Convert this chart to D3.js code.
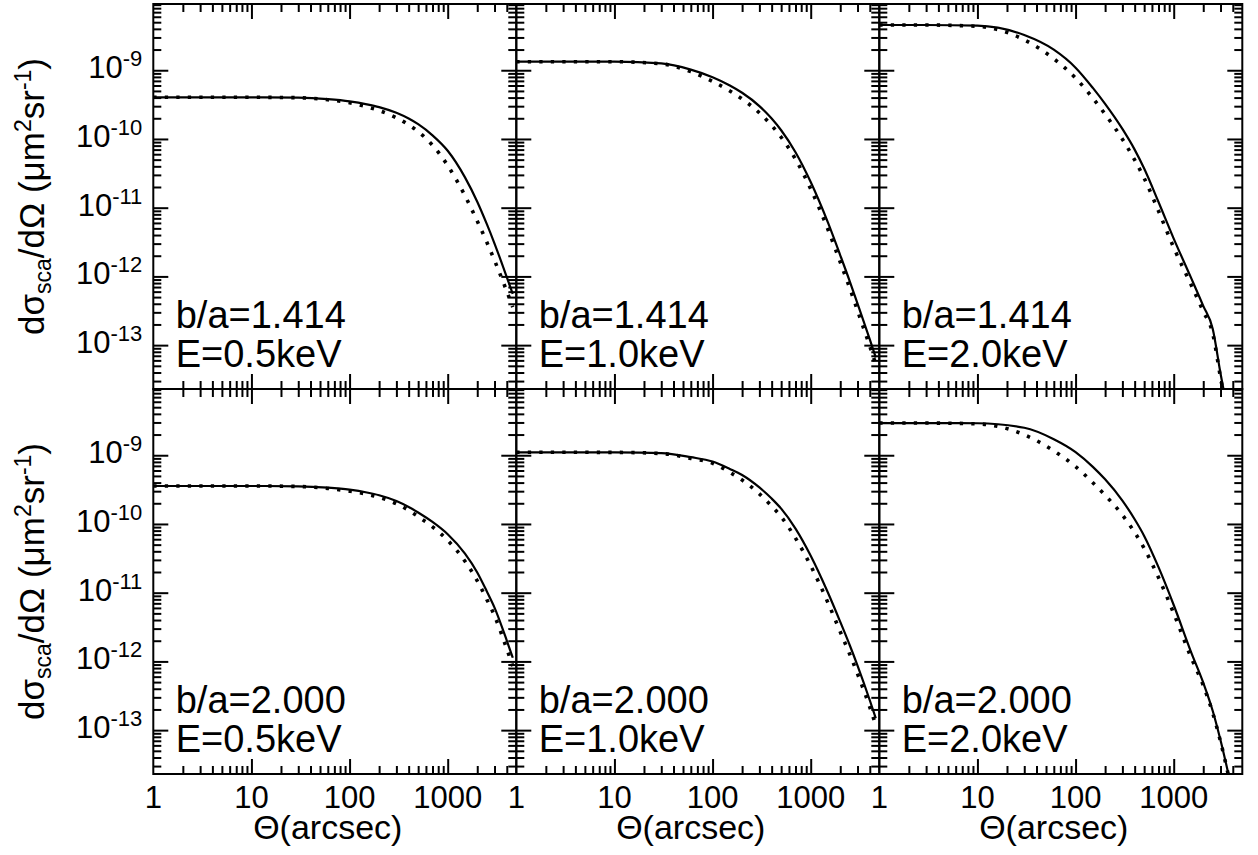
<!DOCTYPE html>
<html lang="en">
<head>
<meta charset="UTF-8">
<title>dsigma/dOmega panels</title>
<script src="https://cdn.jsdelivr.net/npm/d3@7"></script>
<style>
  body { margin: 0; background: #fff; }
  text { font-family: "Liberation Sans", Arial, Helvetica, sans-serif; fill: #000; }
</style>
</head>
<body>
<script>
// scattering angle (arcsec), shared by every curve
var theta = [1, 3, 10, 30, 60, 100, 150, 200, 300, 400, 500, 700, 1000, 1500, 2000, 2500, 3000, 4000, 4600];

// b/a = 1.414
var solid_r1_e05  = [4.04e-10, 4.04e-10, 4.04e-10, 3.99e-10, 3.79e-10, 3.52e-10, 3.19e-10, 2.91e-10, 2.40e-10, 1.98e-10, 1.64e-10, 1.13e-10, 6.73e-11, 2.76e-11, 1.22e-11, 5.80e-12, 3.01e-12, 9.77e-13, 5.57e-13];
var dotted_r1_e05 = [4.04e-10, 4.04e-10, 4.04e-10, 3.98e-10, 3.72e-10, 3.37e-10, 2.94e-10, 2.59e-10, 2.03e-10, 1.61e-10, 1.28e-10, 8.11e-11, 4.11e-11, 1.49e-11, 6.38e-12, 3.16e-12, 1.71e-12, 6.07e-13, 3.56e-13];
var solid_r1_e10  = [1.33e-9, 1.33e-9, 1.33e-9, 1.256e-9, 1.021e-9, 7.91e-10, 6.00e-10, 4.70e-10, 3.01e-10, 1.98e-10, 1.34e-10, 6.40e-11, 2.36e-11, 6.05e-12, 2.03e-12, 8.49e-13, 4.01e-13, 1.21e-13, 6.64e-14];
var dotted_r1_e10 = [1.33e-9, 1.33e-9, 1.33e-9, 1.24e-9, 9.53e-10, 6.89e-10, 4.99e-10, 3.82e-10, 2.39e-10, 1.57e-10, 1.06e-10, 5.08e-11, 1.87e-11, 4.81e-12, 1.61e-12, 6.75e-13, 3.18e-13, 9.64e-14, 5.30e-14];
var solid_r1_e20  = [4.55e-9, 4.55e-9, 4.45e-9, 3.25e-9, 1.99e-9, 1.09e-9, 5.53e-10, 3.24e-10, 1.40e-10, 7.00e-11, 3.71e-11, 1.21e-11, 3.55e-12, 9.59e-13, 3.72e-13, 1.72e-13, 3.87e-14, 4.55e-15, 1.44e-15];
var dotted_r1_e20 = [4.55e-9, 4.55e-9, 4.35e-9, 2.77e-9, 1.47e-9, 7.69e-10, 3.92e-10, 2.29e-10, 9.93e-11, 4.95e-11, 2.69e-11, 8.95e-12, 2.63e-12, 7.62e-13, 3.10e-13, 1.47e-13, 3.37e-14, 3.96e-15, 1.25e-15];

// b/a = 2.000
var solid_r2_e05  = [3.57e-10, 3.57e-10, 3.57e-10, 3.53e-10, 3.37e-10, 3.15e-10, 2.87e-10, 2.62e-10, 2.16e-10, 1.77e-10, 1.47e-10, 1.07e-10, 7.09e-11, 3.70e-11, 1.97e-11, 1.05e-11, 6.07e-12, 2.01e-12, 1.13e-12];
var dotted_r2_e05 = [3.57e-10, 3.57e-10, 3.57e-10, 3.51e-10, 3.29e-10, 3.00e-10, 2.71e-10, 2.44e-10, 1.97e-10, 1.58e-10, 1.28e-10, 9.09e-11, 5.76e-11, 2.87e-11, 1.49e-11, 8.00e-12, 4.61e-12, 1.52e-12, 8.56e-13];
var solid_r2_e10  = [1.104e-9, 1.104e-9, 1.10e-9, 1.074e-9, 9.38e-10, 8.09e-10, 6.32e-10, 5.16e-10, 3.40e-10, 2.34e-10, 1.67e-10, 8.57e-11, 3.45e-11, 9.98e-12, 3.77e-12, 1.72e-12, 8.71e-13, 2.72e-13, 1.49e-13];
var dotted_r2_e10 = [1.104e-9, 1.104e-9, 1.10e-9, 1.06e-9, 8.99e-10, 7.64e-10, 5.64e-10, 4.35e-10, 2.74e-10, 1.82e-10, 1.27e-10, 6.21e-11, 2.47e-11, 7.14e-12, 2.70e-12, 1.27e-12, 6.61e-13, 2.16e-13, 1.18e-13];
var solid_r2_e20  = [2.94e-9, 2.94e-9, 2.92e-9, 2.51e-9, 1.71e-9, 1.11e-9, 6.78e-10, 4.46e-10, 2.19e-10, 1.17e-10, 6.70e-11, 2.35e-11, 6.62e-12, 1.38e-12, 4.91e-13, 1.90e-13, 7.14e-14, 1.20e-14, 5.0e-15];
var dotted_r2_e20 = [2.94e-9, 2.94e-9, 2.86e-9, 1.99e-9, 1.16e-9, 6.84e-10, 3.99e-10, 2.62e-10, 1.35e-10, 7.55e-11, 4.43e-11, 1.66e-11, 5.02e-12, 1.15e-12, 4.48e-13, 1.77e-13, 6.82e-14, 1.15e-14, 4.8e-15];

var ratioLabels = ["b/a=1.414", "b/a=2.000"];
var energyLabels = ["E=0.5keV", "E=1.0keV", "E=2.0keV"];
var xTickLabels = ["1", "10", "100", "1000"];
var yTickExps = [-9, -10, -11, -12, -13];

var solids = [[solid_r1_e05, solid_r1_e10, solid_r1_e20], [solid_r2_e05, solid_r2_e10, solid_r2_e20]];
var dotteds = [[dotted_r1_e05, dotted_r1_e10, dotted_r1_e20], [dotted_r2_e05, dotted_r2_e10, dotted_r2_e20]];

var W = 1258, H = 855;
var padLeft = 153.3, padTop = 4, pw = 363, ph = 385;

var svg = d3.select("body").append("svg").attr("width", W).attr("height", H);

var x = d3.scaleLog().domain([1, 5000]).range([0, pw]);
var y = d3.scaleLog().domain([2.3e-14, 9.2e-9]).range([ph, 0]);

var xMajor = [10, 100, 1000];
var xMinor = [];
[1, 10, 100, 1000].forEach(function(d) {
    for (var k = 2; k <= 9; k++) if (k * d < 5000) xMinor.push(k * d);
});
var yMajor = yTickExps.map(function(e) { return Math.pow(10, e); });
var yMinor = [];
for (var e = -14; e <= -9; e++) {
    for (var k = 2; k <= 9; k++) {
        var v = k * Math.pow(10, e);
        if (v > 2.3e-14 && v < 9.2e-9) yMinor.push(v);
    }
}

var line = d3.line()
    .x(function(d) { return x(d[0]); })
    .y(function(d) { return y(d[1]); })
    .curve(d3.curveMonotoneX);

function ticks(g, axis, vals, size, tx, ty) {
    g.append("g")
        .attr("transform", "translate(" + tx + "," + ty + ")")
        .attr("stroke-width", 2)
        .call(axis.tickValues(vals).tickSize(-size).tickSizeOuter(0).tickFormat(""))
        .call(function(a) { a.select(".domain").remove(); });
}

for (var r = 0; r < 2; r++) {
    for (var c = 0; c < 3; c++) {
        var g = svg.append("g")
            .attr("transform", "translate(" + (padLeft + c * pw) + "," + (padTop + r * ph) + ")");
        var cid = "clip" + r + c;
        g.append("clipPath").attr("id", cid)
            .append("rect").attr("width", pw).attr("height", ph);

        var sData = theta.map(function(t, i) { return [t, solids[r][c][i]]; });
        var dData = theta.map(function(t, i) { return [t, dotteds[r][c][i]]; });

        g.append("path")
            .attr("d", line(sData))
            .attr("fill", "none")
            .attr("stroke", "#000")
            .attr("stroke-width", 2.2)
            .attr("clip-path", "url(#" + cid + ")");
        g.append("path")
            .attr("d", line(dData))
            .attr("fill", "none")
            .attr("stroke", "#000")
            .attr("stroke-width", 3.6)
            .attr("stroke-dasharray", "3.3,8.2")
            .attr("clip-path", "url(#" + cid + ")");

        // ticks on all four sides, pointing inward
        ticks(g, d3.axisTop(x), xMajor, 15, 0, 0);
        ticks(g, d3.axisTop(x), xMinor, 8, 0, 0);
        ticks(g, d3.axisBottom(x), xMajor, 15, 0, ph);
        ticks(g, d3.axisBottom(x), xMinor, 8, 0, ph);
        ticks(g, d3.axisLeft(y), yMajor, 15, 0, 0);
        ticks(g, d3.axisLeft(y), yMinor, 8, 0, 0);
        ticks(g, d3.axisRight(y), yMajor, 15, pw, 0);
        ticks(g, d3.axisRight(y), yMinor, 8, pw, 0);

        g.append("rect")
            .attr("width", pw).attr("height", ph)
            .attr("fill", "none").attr("stroke", "#000").attr("stroke-width", 2);

        g.append("text").attr("x", 22.4).attr("y", 324.3)
            .attr("font-size", 38).text(ratioLabels[r]);
        g.append("text").attr("x", 22.4).attr("y", 362.7)
            .attr("font-size", 38).text(energyLabels[c]);

        if (r == 1) {
            g.selectAll(".xl").data(xTickLabels).enter().append("text")
                .attr("x", function(d) { return x(+d); })
                .attr("y", ph + 34)
                .attr("text-anchor", "middle")
                .attr("font-size", 31)
                .text(function(d) { return d; });
            g.append("text")
                .attr("x", pw / 2 - 7).attr("y", ph + 65)
                .attr("text-anchor", "middle")
                .attr("font-size", 34)
                .text("\u0398(arcsec)");
        }

        if (c == 0) {
            yTickExps.forEach(function(ex) {
                var t = g.append("text")
                    .attr("x", -11)
                    .attr("y", y(Math.pow(10, ex)) + 8)
                    .attr("text-anchor", "end")
                    .attr("font-size", 31);
                t.append("tspan").text("10");
                t.append("tspan").attr("dy", -12).attr("font-size", 22).text(String(ex));
            });

            var yt = g.append("text")
                .attr("transform", "translate(" + (44 - padLeft) + "," + (ph / 2) + ") rotate(-90)")
                .attr("text-anchor", "middle")
                .attr("font-size", 35);
            yt.append("tspan").text("d\u03c3");
            yt.append("tspan").attr("dy", 7).attr("font-size", 23).text("sca");
            yt.append("tspan").attr("dy", -7).text("/d\u03a9 (\u03bcm");
            yt.append("tspan").attr("dy", -13).attr("font-size", 23).text("2");
            yt.append("tspan").attr("dy", 13).text("sr");
            yt.append("tspan").attr("dy", -13).attr("font-size", 23).text("-1");
            yt.append("tspan").attr("dy", 13).text(")");
        }
    }
}
</script>
</body>
</html>
